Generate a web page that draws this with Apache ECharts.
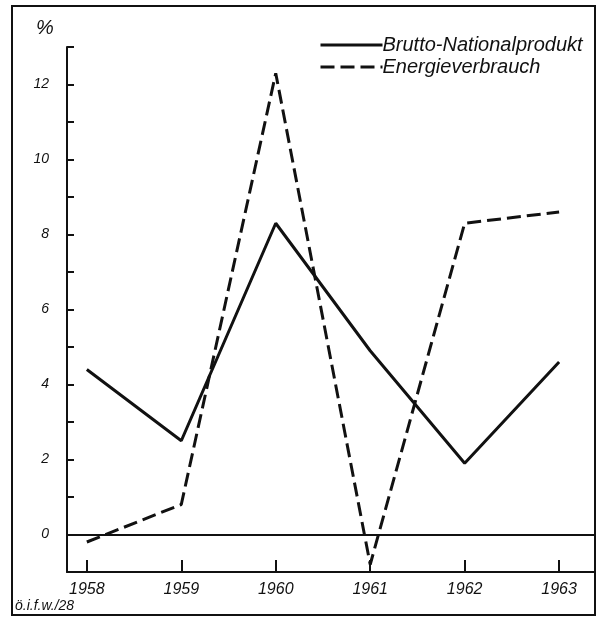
<!DOCTYPE html>
<html lang="de">
<head>
    <meta charset="utf-8">
    <title>Brutto-Nationalprodukt und Energieverbrauch</title>
    <style>
        * {
            margin: 0;
            padding: 0;
        }

        #chart {
            width: 613px;
            height: 620px;
            background: #fff;
        }
    </style>
</head>
<body>
<div id="chart"></div>
<script src="https://cdn.jsdelivr.net/npm/echarts@6/dist/echarts.min.js"></script>
<script>
    // Werte (jährliche Veränderung in %)
    const years = [1958, 1959, 1960, 1961, 1962, 1963];
    const gnp = [4.4, 2.5, 8.3, 4.9, 1.9, 4.6];
    const energy = [-0.2, 0.8, 12.3, -0.8, 8.3, 8.6];
    const seriesNames = ['Brutto-Nationalprodukt', 'Energieverbrauch'];

    const ink = '#111';
    const font = '"Liberation Sans", Arial, sans-serif';
    const dash = [14, 6];

    const chart = echarts.init(document.getElementById('chart'), null, {renderer: 'canvas'});

    const toPoints = vals => years.map((y, i) => [y, vals[i]]);

    const option = {
        animation: false,
        backgroundColor: '#fff',
        grid: {left: 67, right: 18, top: 47, bottom: 48},
        legend: {
            orient: 'vertical',
            left: 314,
            top: 30,
            itemWidth: 62,
            itemHeight: 14,
            itemGap: 2,
            data: [
                {name: seriesNames[0], lineStyle: {width: 3, color: ink}},
                {name: seriesNames[1], lineStyle: {width: 3, color: ink, type: dash}}
            ],
            itemStyle: {opacity: 0},
            textStyle: {
                color: ink,
                fontFamily: font,
                fontStyle: 'italic',
                fontSize: 20,
                lineHeight: 16,
                padding: [0, 0, 0, -5]
            }
        },
        xAxis: {
            type: 'value',
            min: 1957.79,
            max: 1963.38,
            axisLine: {onZero: false, lineStyle: {color: ink, width: 2}},
            axisTick: {
                customValues: years,
                inside: true,
                length: 12,
                lineStyle: {color: ink, width: 2}
            },
            axisLabel: {
                customValues: years,
                formatter: v => String(v),
                color: ink,
                fontFamily: font,
                fontStyle: 'italic',
                fontSize: 16,
                margin: 10
            },
            splitLine: {show: false}
        },
        yAxis: {
            type: 'value',
            min: -1,
            max: 13,
            interval: 1,
            axisLine: {show: true, onZero: false, lineStyle: {color: ink, width: 2}},
            axisTick: {
                inside: true,
                length: 7,
                lineStyle: {color: ink, width: 2}
            },
            axisLabel: {
                formatter: v => (v % 2 === 0 ? String(v) : ''),
                color: ink,
                fontFamily: font,
                fontStyle: 'italic',
                fontSize: 14,
                margin: 18
            },
            splitLine: {show: false}
        },
        series: [
            {
                name: seriesNames[0],
                type: 'line',
                data: toPoints(gnp),
                symbol: 'none',
                lineStyle: {color: ink, width: 3},
                itemStyle: {color: ink},
                markLine: {
                    silent: true,
                    symbol: 'none',
                    label: {show: false},
                    lineStyle: {color: ink, width: 1.8, type: 'solid'},
                    data: [{yAxis: 0}]
                },
                z: 3
            },
            {
                name: seriesNames[1],
                type: 'line',
                data: toPoints(energy),
                symbol: 'none',
                lineStyle: {color: ink, width: 3, type: dash},
                itemStyle: {color: ink},
                z: 3
            }
        ],
        graphic: [
            {
                type: 'rect',
                shape: {x: 12, y: 6, width: 583, height: 609},
                style: {fill: null, stroke: ink, lineWidth: 2},
                silent: true
            },
            {
                type: 'text',
                left: 36,
                top: 18,
                style: {
                    text: '%',
                    fill: ink,
                    font: 'italic 20px ' + font
                }
            },
            {
                type: 'text',
                left: 15,
                top: 599,
                style: {
                    text: 'ö.i.f.w./28',
                    fill: ink,
                    font: 'italic 14px ' + font
                }
            }
        ]
    };

    chart.setOption(option);
</script>
</body>
</html>
